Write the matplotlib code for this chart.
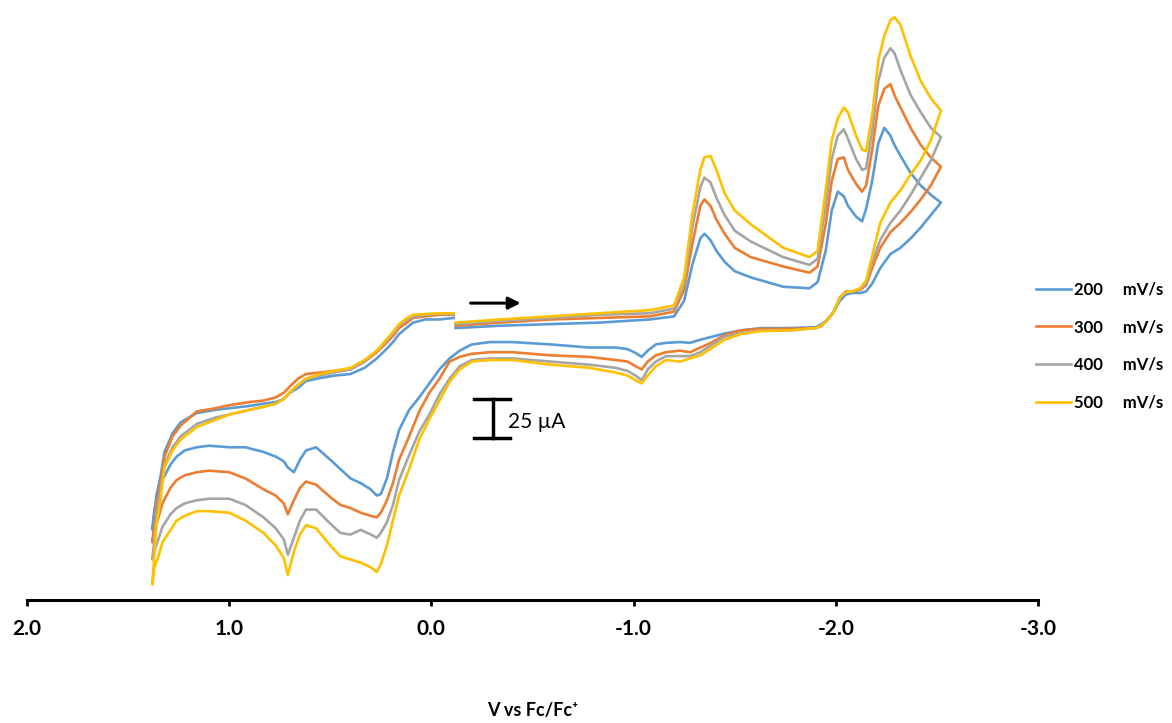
import matplotlib
matplotlib.use('Agg')
import matplotlib.pyplot as plt
import numpy as np

plt.rcParams['font.family'] = ['Lato', 'DejaVu Sans']

# scan rates and Excel-like colours
rates = [200, 300, 400, 500]
colors = ['#5B9BD5', '#ED7D31', '#A5A5A5', '#FFC000']

# forward (cathodic) scan, -0.12 V -> -2.52 V
fwd_v = [-0.12, -0.34, -0.59, -0.83, -1.08, -1.20, -1.25, -1.29, -1.33, -1.35,
         -1.38, -1.41, -1.45, -1.50, -1.58, -1.74, -1.87, -1.91, -1.95, -1.98,
         -2.01, -2.04, -2.06, -2.10, -2.13, -2.15, -2.18, -2.21, -2.24, -2.27,
         -2.29, -2.32, -2.37, -2.42, -2.47, -2.52]
fwd_200 = [4.5, 6, 7, 8, 10, 12, 22, 45, 62, 65, 61, 54, 47, 41, 37, 31, 30, 34, 54, 80,
           92, 89, 83, 76, 73, 81, 99, 123, 133, 128, 122, 115, 104, 96, 90, 85]
fwd_300 = [6, 8, 10, 11, 12, 15, 29, 58, 83, 87, 83, 74, 65, 56, 50, 44, 40, 44, 71, 99,
           113, 114, 106, 97, 92, 96, 119, 147, 158, 161, 154, 146, 133, 122, 114, 108]
fwd_400 = [7, 9, 11, 13, 14, 17, 33, 69, 95, 101, 98, 88, 77, 67, 60, 50, 45, 49, 83, 113,
           128, 132, 126, 113, 106, 107, 131, 163, 178, 184, 181, 170, 154, 143, 133, 127]
fwd_500 = [8, 10, 12, 14, 16, 19, 37, 77, 106, 114, 115, 106, 91, 80, 71, 56, 50, 54, 93, 125,
           139, 146, 143, 128, 119, 118, 141, 176, 192, 202, 204, 199, 179, 163, 152, 144]

# reverse (anodic) scan, -2.52 V -> +1.38 V
rev_v = [-2.52, -2.47, -2.42, -2.37, -2.32, -2.27, -2.22, -2.18, -2.15, -2.12,
         -2.08, -2.05, -2.02, -1.99, -1.96, -1.93, -1.90, -1.77, -1.63, -1.53,
         -1.45, -1.39, -1.33, -1.28, -1.23, -1.16, -1.11, -1.07, -1.04, -1.01,
         -0.97, -0.91, -0.78, -0.59, -0.40, -0.29, -0.20, -0.14, -0.09, -0.04,
         0.01, 0.06, 0.11, 0.16, 0.19, 0.22, 0.25, 0.27, 0.30, 0.35,
         0.40, 0.45, 0.50, 0.57, 0.62, 0.65, 0.68, 0.71, 0.73, 0.77,
         0.83, 0.92, 1.00, 1.10, 1.16, 1.22, 1.26, 1.29, 1.33, 1.35,
         1.37, 1.38]
rev_200 = [85, 77, 69, 62, 56, 52, 43, 33, 28, 27, 27, 26, 22, 15, 10, 7, 5, 4.5, 4.5, 3,
           1, -1, -3, -5, -4.5, -5, -6, -10, -14, -11.5, -9, -8, -8, -6, -4.5, -4.5, -6, -10, -15, -22,
           -31, -40, -48, -61, -75, -92, -102, -103, -99, -95, -92, -86, -80, -72, -74, -80, -88, -85, -81, -78,
           -75, -72, -72, -71, -72, -74, -78, -83, -93, -103, -112, -125]
rev_300 = [108, 96, 87, 79, 72, 66, 56, 43, 32, 29, 28, 28, 24, 15, 10, 6, 4.5, 4, 4, 3,
           0, -4.5, -8, -11, -10, -11, -13, -17, -22, -20, -17, -16, -14, -13, -11, -11, -12, -14, -17, -28,
           -37, -49, -65, -80, -95, -106, -114, -117, -116, -114, -111, -109, -104, -96, -94, -98, -106, -115, -108, -103,
           -99, -92, -88, -87, -88, -90, -93, -98, -108, -117, -125, -133]
rev_400 = [127, 112, 101, 90, 80, 72, 61, 47, 33, 29.5, 28, 27.6, 24, 15, 10, 6, 4.5, 3, 3, 1,
           -1, -6, -11, -13.5, -13.5, -13.5, -17, -22, -29, -26, -23, -21, -19, -17, -15, -15, -16, -20, -28, -38,
           -51, -62, -77, -93, -109, -120, -127, -130, -128, -125, -128, -127, -121, -112, -112, -119, -130, -141, -131, -124,
           -117, -109, -105, -105, -106, -108, -111, -115, -123, -131, -138, -144]
rev_500 = [144, 125, 112, 103, 93, 85, 72, 51, 35, 30, 28, 27.6, 24, 15, 10, 6, 4.5, 3, 2.6, 0.6,
           -3, -8, -13, -15, -17, -16, -20, -26, -31, -29, -26, -24, -21, -19, -16, -16, -17, -22, -30, -42,
           -54, -67, -86, -103, -119, -135, -147, -152, -149, -146, -144, -142, -135, -124, -122, -128, -139, -154, -143, -135,
           -127, -119, -114, -113, -113, -116, -119, -125, -133, -142, -149, -160]

# return scan, +1.38 V -> -0.11 V
ret_v = [1.38, 1.37, 1.36, 1.34, 1.32, 1.28, 1.24, 1.16, 1.07, 1.00,
         0.90, 0.83, 0.77, 0.73, 0.70, 0.66, 0.62, 0.55, 0.48, 0.40,
         0.33, 0.27, 0.23, 0.19, 0.16, 0.12, 0.09, 0.03, -0.04, -0.11]
ret_200 = [-125, -115, -103, -91, -75, -63, -56, -50, -48, -47, -45.5, -44, -43, -41, -37,
           -34, -29.5, -27.6, -26, -25, -21, -15, -10, -4.5, 0.6, 5, 8, 10, 10, 11]
ret_300 = [-133, -122, -109, -96, -78, -65, -58, -49, -47, -45, -43, -42, -40, -37, -33,
           -28, -25, -24, -23, -22, -17, -11, -6, -0.6, 4.5, 8, 11, 12, 13, 13]
ret_400 = [-144, -131, -115, -101, -83, -72, -65, -57, -53, -51, -48, -46, -44, -41, -37,
           -32, -28, -26, -24, -22, -17, -10, -5, 0.6, 6, 10, 11.5, 13, 13.5, 13.5]
ret_500 = [-160, -141, -122, -106, -85, -74, -67, -59, -54.5, -51, -48, -46, -44, -41, -36.5,
           -32, -28, -25, -23, -21, -16, -10, -4, 2, 7, 11, 13, 13.5, 14, 14]

fwd_i = [fwd_200, fwd_300, fwd_400, fwd_500]
rev_i = [rev_200, rev_300, rev_400, rev_500]
ret_i = [ret_200, ret_300, ret_400, ret_500]

xticks = [2.0, 1.0, 0.0, -1.0, -2.0, -3.0]

fig = plt.figure(figsize=(11.72, 7.23), dpi=100)
ax = fig.add_axes([27 / 1172, 123 / 723, 1011 / 1172, 600 / 723])

for k in range(len(rates)):
    v = np.concatenate([fwd_v, rev_v[1:], ret_v[1:]])
    i = np.concatenate([fwd_i[k], rev_i[k][1:], ret_i[k][1:]])
    ax.plot(v, i, color=colors[k], lw=1.9, label=f'{rates[k]}     mV/s',
            solid_joinstyle='round')

ax.set_xlim(2.0, -3.0)
ax.set_ylim(-170, 215)

# only the bottom axis
for s in ['top', 'left', 'right']:
    ax.spines[s].set_visible(False)
ax.spines['bottom'].set_linewidth(2.2)
ax.set_yticks([])
ax.set_xticks(xticks)
ax.set_xticklabels([f'{t:.1f}' for t in xticks], fontsize=15, fontweight='bold')
ax.tick_params(axis='x', direction='out', length=4, width=2, pad=10)
ax.set_xlabel('V vs Fc/Fc⁺', fontsize=13, fontweight='bold', labelpad=45)

# scan direction arrow
ax.annotate('', xy=(-0.455, 20.5), xytext=(-0.18, 20.5),
            arrowprops=dict(arrowstyle='-|>', lw=2.2, color='black', mutation_scale=18))

# 25 uA scale bar
ax.plot([-0.305, -0.305], [-66, -41], color='black', lw=2.5)
ax.plot([-0.21, -0.39], [-41, -41], color='black', lw=2.5)
ax.plot([-0.21, -0.39], [-66, -66], color='black', lw=2.5)
ax.text(-0.38, -56, '25 µA', fontsize=15, va='center', ha='left')

fig.legend(loc='upper left', bbox_to_anchor=(1028 / 1172, 1 - 273 / 723),
           frameon=False, prop={'weight': 'bold', 'size': 12},
           handlelength=2.1, handletextpad=0.15, labelspacing=1.3, borderpad=0)

fig.savefig('out.png', dpi=100)
